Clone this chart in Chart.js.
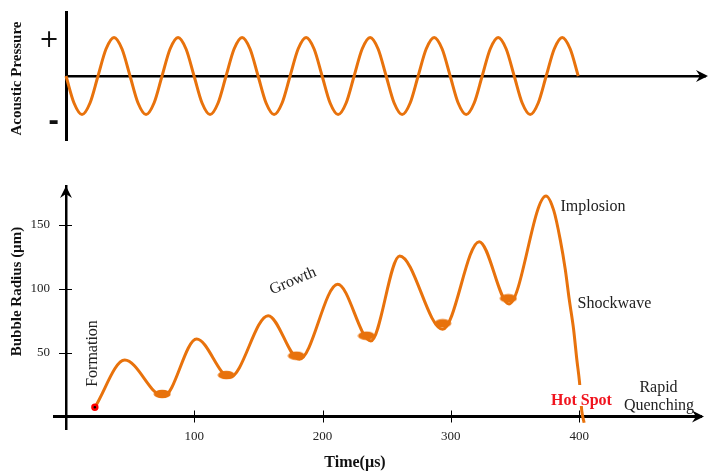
<!DOCTYPE html>
<html>
<head>
<meta charset="utf-8">
<script src="https://cdn.jsdelivr.net/npm/chart.js@4.4.1/dist/chart.umd.min.js"></script>
<style>
  html, body { margin: 0; padding: 0; background: #fff; }
  #wrap { position: relative; width: 708px; height: 473px; overflow: hidden; }
  canvas { position: absolute; left: 0; top: 0; }
</style>
</head>
<body>
<div id="wrap">
  <canvas id="pressureChart" width="708" height="473"></canvas>
  <canvas id="radiusChart" width="708" height="473"></canvas>
</div>
<script>
// acoustic pressure wave (top panel), read every eighth of a cycle
const pressureTime = [
  0, 6.2, 12.4, 18.6, 24.8, 31, 37.2, 43.4, 49.6, 55.8, 62, 68.2, 74.4, 80.6, 86.8, 93,
  99.2, 105.4, 111.6, 117.8, 124, 130.2, 136.4, 142.6, 148.8, 155, 161.2, 167.4, 173.6, 179.8, 186, 192.2,
  198.4, 204.6, 210.8, 217, 223.2, 229.4, 235.6, 241.8, 248, 254.2, 260.4, 266.6, 272.8, 279, 285.2, 291.4,
  297.6, 303.8, 310, 316.2, 322.4, 328.6, 334.8, 341, 347.2, 353.4, 359.6, 365.8, 372, 378.2, 384.4, 390.6,
  396.8
];
const pressureValue = [
  0, -0.7, -1, -0.7, 0, 0.7, 1, 0.7, 0, -0.7, -1, -0.7, 0, 0.7, 1, 0.7,
  0, -0.7, -1, -0.7, 0, 0.7, 1, 0.7, 0, -0.7, -1, -0.7, 0, 0.7, 1, 0.7,
  0, -0.7, -1, -0.7, 0, 0.7, 1, 0.7, 0, -0.7, -1, -0.7, 0, 0.7, 1, 0.7,
  0, -0.7, -1, -0.7, 0, 0.7, 1, 0.7, 0, -0.7, -1, -0.7, 0, 0.7, 1, 0.7,
  0
];
const pressureTicks = [0.92, -1.22];
const pressureTickLabels = ["+", "-"];

// bubble radius (bottom panel)
const radiusTime = [22.5, 45.8, 76.0, 101.8, 127.7, 157.6, 181.9, 211.8, 237.6, 260.1, 293.6,
  322.1, 345.3, 374.2, 380.2, 385.3, 389.2, 392.3, 395.7, 398.2, 400.3, 402.1, 403.9];
const radiusValue = [7.2, 44.1, 15.6, 60.5, 30.6, 78.8, 44.7, 103.3, 59, 125.4, 68.1,
  136.6, 87.9, 172.3, 161, 138, 114.8, 91.4, 68, 44.5, 26.8, 4.1, -4.9];
const troughTime = [75.0, 125.0, 179.6, 234.2, 293.6, 344.8];
const troughValue = [17.6, 32.4, 47.5, 63.1, 72.8, 92.3];
const formationTime = [22.5];
const formationValue = [7.2];
const timeTicks = [100, 200, 300, 400];
const radiusTicks = [50, 100, 150];

const ORANGE = "#e8720c";
const SERIF = "'Liberation Serif', 'Times New Roman', serif";
Chart.defaults.font.family = SERIF;

function toPoints(xs, ys) {
  return xs.map((x, i) => ({ x: x, y: ys[i] }));
}

// keep the chart area exactly where the layout padding puts it
function fixAxisWidth(scale) {
  scale.width = 66;
  scale.paddingTop = 0;
  scale.paddingBottom = 0;
}

function drawArrow(ctx, tx, ty, dir) {
  ctx.save();
  ctx.translate(tx, ty);
  if (dir === "up") ctx.rotate(-Math.PI / 2);
  ctx.fillStyle = "#000";
  ctx.beginPath();
  ctx.moveTo(0, 0);
  ctx.lineTo(-12, -6);
  ctx.lineTo(-8, 0);
  ctx.lineTo(-12, 6);
  ctx.closePath();
  ctx.fill();
  ctx.restore();
}

function drawText(ctx, text, x, y, font, color, align, baseline, angle) {
  ctx.save();
  ctx.translate(x, y);
  if (angle) ctx.rotate(angle);
  ctx.font = font;
  ctx.fillStyle = color;
  ctx.textAlign = align;
  ctx.textBaseline = baseline;
  ctx.fillText(text, 0, 0);
  ctx.restore();
}

// ellipse used for the blobs sitting in each trough
const blobStyle = document.createElement("canvas");
blobStyle.width = 18;
blobStyle.height = 10;
(function () {
  const b = blobStyle.getContext("2d");
  b.fillStyle = ORANGE;
  b.beginPath();
  b.ellipse(9, 5, 8.5, 4.3, 0, 0, Math.PI * 2);
  b.fill();
})();

const pressureDecor = {
  id: "pressureDecor",
  afterDraw(chart) {
    const ctx = chart.ctx;
    const x = chart.scales.x;
    const y = chart.scales.y;
    drawArrow(ctx, x.right + 3, y.getPixelForValue(0), "right");
    drawText(ctx, "Acoustic Pressure", 17.5, 78.5, "bold 15px " + SERIF, "#111", "center", "middle", -Math.PI / 2);
  },
};

const radiusDecor = {
  id: "radiusDecor",
  afterDraw(chart) {
    const ctx = chart.ctx;
    const x = chart.scales.x;
    const y = chart.scales.y;
    const y0 = y.getPixelForValue(0);
    const x0 = x.getPixelForValue(0);
    ctx.save();
    ctx.strokeStyle = "#000";
    ctx.lineWidth = 3;
    ctx.beginPath();
    ctx.moveTo(53, y0);
    ctx.lineTo(x0, y0);
    ctx.stroke();
    ctx.lineWidth = 1;
    x.ticks.forEach((t) => {
      const px = Math.round(x.getPixelForValue(t.value)) + 0.5;
      ctx.beginPath();
      ctx.moveTo(px, y0 - 6);
      ctx.lineTo(px, y0 + 6);
      ctx.stroke();
    });
    y.ticks.forEach((t) => {
      const py = Math.round(y.getPixelForValue(t.value)) + 0.5;
      ctx.beginPath();
      ctx.moveTo(x0 - 7, py);
      ctx.lineTo(x0 + 6, py);
      ctx.stroke();
    });
    ctx.restore();
    drawArrow(ctx, x.right + 3, y0, "right");
    drawArrow(ctx, x0, y.top, "up");

    drawText(ctx, "Bubble Radius (\u00b5m)", 17.5, 291.5, "bold 15px " + SERIF, "#111", "center", "middle", -Math.PI / 2);
    drawText(ctx, "Time(\u00b5s)", 355, 463, "bold 16px " + SERIF, "#111", "center", "middle", 0);
    drawText(ctx, "Formation", 92.5, 353.5, "16px " + SERIF, "#222", "center", "middle", -Math.PI / 2);
    drawText(ctx, "Growth", 293, 281, "16px " + SERIF, "#222", "center", "middle", -0.4);
    drawText(ctx, "Implosion", 560.5, 211.3, "16px " + SERIF, "#222", "left", "alphabetic", 0);
    drawText(ctx, "Shockwave", 577.5, 308.3, "16px " + SERIF, "#222", "left", "alphabetic", 0);
    drawText(ctx, "Rapid", 658.5, 391.8, "16px " + SERIF, "#222", "center", "alphabetic", 0);
    drawText(ctx, "Quenching", 659, 410, "16px " + SERIF, "#222", "center", "alphabetic", 0);
    ctx.save();
    ctx.fillStyle = "#fff";
    ctx.fillRect(576, 385, 16, 21);
    ctx.restore();
    drawText(ctx, "Hot Spot", 551, 404.7, "bold 16px " + SERIF, "#f0141e", "left", "alphabetic", 0);
  },
};

new Chart(document.getElementById("pressureChart"), {
  type: "line",
  data: {
    datasets: [
      {
        data: toPoints(pressureTime, pressureValue),
        borderColor: ORANGE,
        borderWidth: 3,
        pointRadius: 0,
        cubicInterpolationMode: "monotone",
        clip: false,
      },
    ],
  },
  options: {
    responsive: false,
    animation: false,
    layout: { padding: { left: 0, right: 3, top: 12, bottom: 333 } },
    plugins: { legend: { display: false }, tooltip: { enabled: false } },
    scales: {
      x: {
        type: "linear",
        min: 0,
        max: 495,
        position: { y: 0 },
        grid: { display: false, drawTicks: false },
        border: { display: true, color: "#000", width: 2.5 },
        ticks: { display: false },
      },
      y: {
        type: "linear",
        position: "left",
        min: -1.66,
        max: 1.66,
        afterFit: fixAxisWidth,
        afterBuildTicks: (scale) => { scale.ticks = pressureTicks.map((v) => ({ value: v })); },
        grid: { display: false, drawTicks: false },
        border: { display: true, color: "#000", width: 3 },
        ticks: {
          padding: 7,
          color: "#111",
          callback: (value) => pressureTickLabels[pressureTicks.indexOf(value)],
          font: (c) => (c.tick && c.tick.value > 0
            ? { family: "'DejaVu Sans'", size: 24 }
            : { family: "'DejaVu Sans'", size: 26, weight: "bold" }),
        },
      },
    },
  },
  plugins: [pressureDecor],
});

new Chart(document.getElementById("radiusChart"), {
  type: "line",
  data: {
    datasets: [
      {
        data: toPoints(troughTime, troughValue),
        showLine: false,
        pointStyle: blobStyle,
        pointRadius: 6,
        order: 0,
      },
      {
        data: toPoints(formationTime, formationValue),
        showLine: false,
        pointRadius: 2.5,
        pointBorderWidth: 2.4,
        pointBackgroundColor: "#000",
        pointBorderColor: "#f00",
        order: 0,
      },
      {
        data: toPoints(radiusTime, radiusValue),
        borderColor: ORANGE,
        borderWidth: 3,
        pointRadius: 0,
        cubicInterpolationMode: "monotone",
        order: 1,
      },
    ],
  },
  options: {
    responsive: false,
    animation: false,
    layout: { padding: { left: 0, right: 3, top: 186.1, bottom: 43.7 } },
    plugins: { legend: { display: false }, tooltip: { enabled: false } },
    scales: {
      x: {
        type: "linear",
        min: 0,
        max: 495,
        position: { y: 0 },
        afterBuildTicks: (scale) => { scale.ticks = timeTicks.map((v) => ({ value: v })); },
        grid: { display: false, drawTicks: false },
        border: { display: true, color: "#000", width: 3 },
        ticks: { padding: 12, color: "#222", font: { size: 13 } },
      },
      y: {
        type: "linear",
        position: "left",
        min: -10,
        max: 180,
        afterFit: fixAxisWidth,
        afterBuildTicks: (scale) => { scale.ticks = radiusTicks.map((v) => ({ value: v })); },
        grid: { display: false, drawTicks: false },
        border: { display: true, color: "#000", width: 2.5 },
        ticks: { padding: 16, color: "#222", font: { size: 13 } },
      },
    },
  },
  plugins: [radiusDecor],
});
</script>
</body>
</html>
